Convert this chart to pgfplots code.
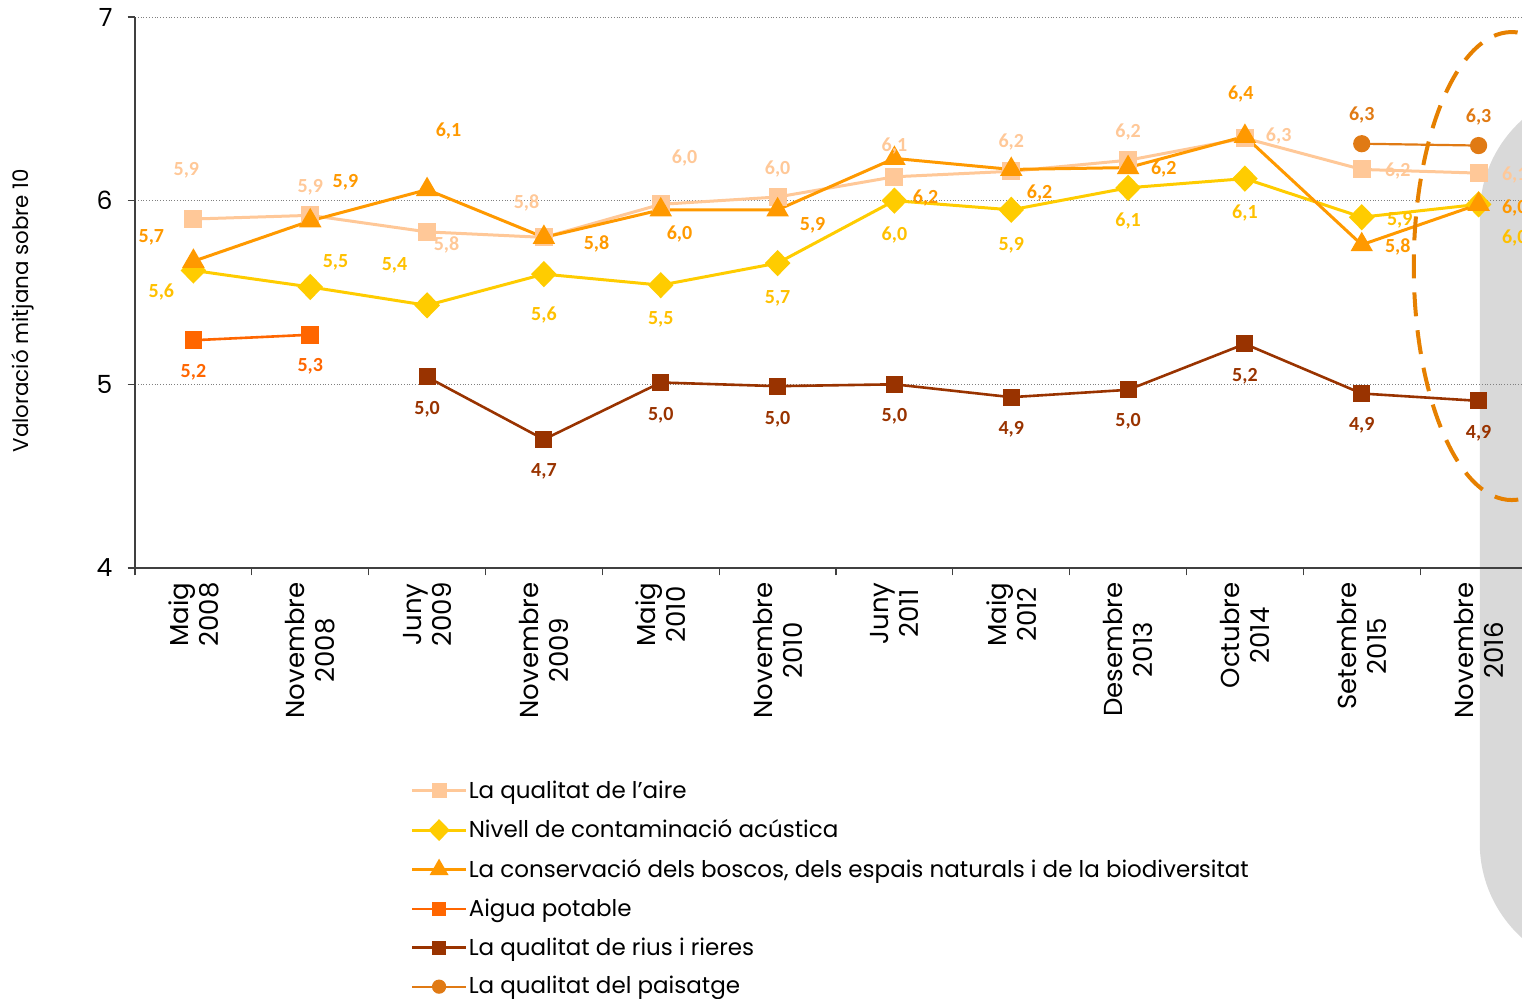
\documentclass[border=0pt]{standalone}
\usepackage{fontspec}
\setmainfont{Poppins}
\newfontfamily\lblfont{Carlito}
\usepackage{pgfplots}
\pgfplotsset{compat=1.18}

\definecolor{aireC}{RGB}{255,200,152}
\definecolor{acusC}{RGB}{255,204,0}
\definecolor{acusT}{RGB}{255,192,0}
\definecolor{boscC}{RGB}{255,153,0}
\definecolor{aiguaC}{RGB}{255,102,0}
\definecolor{riusC}{RGB}{153,51,0}
\definecolor{paisC}{RGB}{224,122,20}
\definecolor{ovalC}{RGB}{230,128,0}
\definecolor{shadeC}{RGB}{217,217,217}

\newcommand\lbl{\lblfont\bfseries\fontsize{10}{10}\selectfont}

\begin{document}
\begin{tikzpicture}

% labels of the data values, one invisible plot per series
\pgfplotsset{
  vals/.style={draw=none, mark=none, forget plot, nodes near coords,
    point meta=explicit symbolic,
    nodes near coords style={anchor=center, inner sep=0pt, font=\lbl, text=#1}},
}

\begin{axis}[
    name=ax, set layers=standard,
    scale only axis, width=701pt, height=275.5pt,
    xmin=-0.5, xmax=11.5, ymin=4, ymax=7,
    clip=false,
    axis x line*=bottom, axis y line*=left,
    axis line style={black!75, line width=0.6pt},
    tick style={black!75, line width=0.6pt},
    tick align=outside, major tick length=3.75pt,
    ytick={4,5,6,7}, yticklabels={4,5,6,7},
    yticklabel style={font=\fontsize{12.5}{12.5}\selectfont, xshift=-4pt},
    ymajorgrids, grid style={densely dotted, gray, line width=0.4pt},
    xtick={-0.5,0.5,...,11.5}, xticklabels={},
    extra x ticks={0,1,2,3,4,5,6,7,8,9,10,11},
    extra x tick labels={{Maig\\2008},{Novembre\\2008},{Juny\\2009},{Novembre\\2009},
      {Maig\\2010},{Novembre\\2010},{Juny\\2011},{Maig\\2012},{Desembre\\2013},
      {Octubre\\2014},{Setembre\\2015},{Novembre\\2016}},
    extra x tick style={tick style={draw=none}, grid=none,
      xticklabel style={rotate=90, anchor=east, align=center,
        font=\fontsize{13}{15}\selectfont}},
    ylabel={Valoració mitjana sobre 10},
    ylabel style={at={(axis description cs:-0.0797,0.467)}, anchor=center,
      rotate=0, font=\fontsize{10.7}{10.7}\selectfont},
    legend style={at={(0.192,-0.3757)}, anchor=north west, draw=none,
      font=\fontsize{11.5}{11.5}\selectfont, legend cell align=left,
      row sep=8pt, nodes={inner sep=0.6pt}},
    legend image code/.code={
      \draw[mark repeat=2, mark phase=2] plot coordinates {(0pt,0pt) (13.5pt,0pt) (27pt,0pt)};},
    legend image post style={every mark/.append style={scale=0.8}},
  ]

  % grey band behind the last survey and the dashed oval
  \begin{pgfonlayer}{axis background}
  \fill[shadeC, rounded corners=64pt]
    (axis cs:11.01,1.806) rectangle (axis cs:12.6,6.619);
  \end{pgfonlayer}

  \addplot[aireC, line width=1.5pt, mark=square*, mark size=3.75pt,
           mark options={solid}] coordinates {
    (0,5.90) (1,5.92) (2,5.83) (3,5.80) (4,5.98) (5,6.02)
    (6,6.13) (7,6.16) (8,6.22) (9,6.34) (10,6.17) (11,6.15)};
  \addlegendentry{La qualitat de l'aire}

  \addplot[acusC, line width=1.5pt, mark=diamond*, mark size=5.5pt,
           mark options={solid, xscale=1.3}] coordinates {
    (0,5.62) (1,5.53) (2,5.43) (3,5.60) (4,5.54) (5,5.66)
    (6,6.00) (7,5.95) (8,6.07) (9,6.12) (10,5.91) (11,5.98)};
  \addlegendentry{Nivell de contaminació acústica}

  \addplot[boscC, line width=1.5pt, mark=triangle*, mark size=5pt,
           mark options={solid}] coordinates {
    (0,5.67) (1,5.89) (2,6.06) (3,5.80) (4,5.95) (5,5.95)
    (6,6.23) (7,6.17) (8,6.18) (9,6.35) (10,5.76) (11,5.98)};
  \addlegendentry{La conservació dels boscos, dels espais naturals i de la biodiversitat}

  \addplot[aiguaC, line width=1.3pt, mark=square*, mark size=3.75pt,
           mark options={solid}] coordinates {
    (0,5.24) (1,5.27)};
  \addlegendentry{Aigua potable}

  \addplot[riusC, line width=1.3pt, mark=square*, mark size=3.6pt,
           mark options={solid}] coordinates {
    (2,5.04) (3,4.70) (4,5.01) (5,4.99) (6,5.00) (7,4.93)
    (8,4.97) (9,5.22) (10,4.95) (11,4.91)};
  \addlegendentry{La qualitat de rius i rieres}

  \addplot[paisC, line width=1.1pt, mark=*, mark size=3.75pt,
           mark options={solid}] coordinates {
    (10,6.31) (11,6.30)};
  \addlegendentry{La qualitat del paisatge}

  % value labels
  \addplot[vals=aireC] table[meta=l] {
    x      y     l
    -0.06  6.167 5,9
    1.00   6.074 5,9
    2.166  5.759 5,8
    2.851  5.987 5,8
    4.204  6.232 6,0
    5.00   6.172 6,0
    6.00   6.298 6,1
    7.00   6.319 6,2
    8.00   6.374 6,2
    9.289  6.352 6,3
    10.308 6.162 6,2
    11.31  6.140 6,1
  };
  \addplot[vals=acusT] table[meta=l] {
    x      y     l
    -0.274 5.503 5,6
    1.216  5.666 5,5
    1.721  5.650 5,4
    3.00   5.377 5,6
    4.00   5.356 5,5
    5.00   5.470 5,7
    6.00   5.813 6,0
    7.00   5.759 5,9
    8.00   5.889 6,1
    9.00   5.933 6,1
    10.325 5.895 5,9
    11.31  5.797 6,0
  };
  \addplot[vals=boscC] table[meta=l] {
    x      y     l
    -0.36  5.802 5,7
    1.301  6.102 5,9
    2.183  6.379 6,1
    3.450  5.764 5,8
    4.161  5.818 6,0
    5.30   5.867 5,9
    6.267  6.014 6,2
    7.243  6.042 6,2
    8.305  6.172 6,2
    8.964  6.581 6,4
    10.308 5.748 5,8
    11.31  5.960 6,0
  };
  \addplot[vals=aiguaC] table[meta=l] {
    x  y     l
    0  5.067 5,2
    1  5.100 5,3
  };
  \addplot[vals=riusC] table[meta=l] {
    x  y     l
    2  4.866 5,0
    3  4.528 4,7
    4  4.833 5,0
    5  4.811 5,0
    6  4.828 5,0
    7  4.757 4,9
    8  4.800 5,0
    9  5.045 5,2
    10 4.779 4,9
    11 4.735 4,9
  };
  \addplot[vals=paisC] table[meta=l] {
    x  y     l
    10 6.466 6,3
    11 6.456 6,3
  };

  \draw[ovalC, line width=2pt, dash pattern=on 12pt off 7pt]
    (axis cs:11.284,5.644) ellipse [x radius=49pt, y radius=117pt];
\end{axis}

\pgfresetboundingbox
\path[use as bounding box] ([xshift=-67.5pt,yshift=-215.5pt]ax.south west)
  rectangle ([xshift=-7.5pt,yshift=8.5pt]ax.north east);
\end{tikzpicture}
\end{document}
